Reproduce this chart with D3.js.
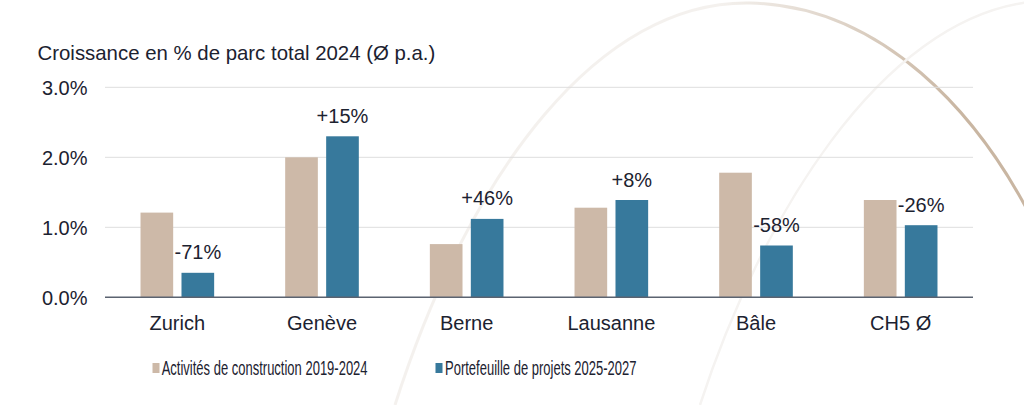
<!DOCTYPE html>
<html>
<head>
<meta charset="utf-8">
<script src="https://cdn.jsdelivr.net/npm/d3@7"></script>
<style>
  html, body { margin: 0; padding: 0; background: #ffffff; }
  svg { display: block; }
  text { font-family: "Liberation Sans", Arial, Helvetica, sans-serif; fill: #1c2230; }
</style>
</head>
<body>
<script>
const categories = ["Zurich", "Genève", "Berne", "Lausanne", "Bâle", "CH5 Ø"];
const seriesNames = ["Activités de construction 2019-2024", "Portefeuille de projets 2025-2027"];
const construction = [1.21, 2.00, 0.76, 1.28, 1.78, 1.39];
const portfolio = [0.35, 2.30, 1.12, 1.39, 0.74, 1.03];
const changeLabels = ["-71%", "+15%", "+46%", "+8%", "-58%", "-26%"];
const yTicks = [0, 1, 2, 3];
const yTickLabels = ["0.0%", "1.0%", "2.0%", "3.0%"];
const title = "Croissance en % de parc total 2024 (Ø p.a.)";
const colors = ["#cdb9a8", "#37799c"];

const W = 1024, H = 405;
const svg = d3.select("body").append("svg").attr("width", W).attr("height", H);

// decorative background arcs
const defs = svg.append("defs");
const g1 = defs.append("linearGradient").attr("id", "arcGrad").attr("gradientUnits", "userSpaceOnUse")
  .attr("x1", 720).attr("y1", 0).attr("x2", 960).attr("y2", 0);
g1.append("stop").attr("offset", 0).attr("stop-color", "#f4f1ee");
g1.append("stop").attr("offset", 1).attr("stop-color", "#c9b6a2");
const bg = svg.append("g");
const p1 = d3.path();
p1.moveTo(395, 405);
p1.bezierCurveTo(470, 170, 600, 0, 750, 3);
p1.bezierCurveTo(880, 6, 980, 110, 1040, 235);
bg.append("path").attr("d", p1.toString()).attr("fill", "none")
  .attr("stroke", "url(#arcGrad)").attr("stroke-width", 3);
const p2 = d3.path();
p2.moveTo(700, 405);
p2.bezierCurveTo(760, 220, 880, 20, 1030, 2);
bg.append("path").attr("d", p2.toString()).attr("fill", "none")
  .attr("stroke", "#f5f3f1").attr("stroke-width", 2.5);

const left = 105, right = 973, y0px = 297.3, y3px = 87.3;
const x0 = d3.scaleBand().domain(categories).range([left, right]).paddingInner(0.491).paddingOuter(0.2455);
const x1 = d3.scaleBand().domain([0, 1]).range([0, x0.bandwidth()]).paddingInner(0.203);
const y = d3.scaleLinear().domain([0, 3]).range([y0px, y3px]);

// grid
const grid = svg.append("g");
grid.selectAll("line").data(yTicks.filter(d => d > 0)).join("line")
  .attr("x1", left).attr("x2", right)
  .attr("y1", d => y(d)).attr("y2", d => y(d))
  .attr("stroke", "#dedede").attr("stroke-width", 1);

// y labels
svg.append("g").selectAll("text").data(yTicks).join("text")
  .attr("x", 87.5).attr("y", d => y(d)).attr("dy", "0.36em")
  .attr("text-anchor", "end").attr("font-size", 20)
  .text((d, i) => yTickLabels[i]);

// bars
const groups = svg.append("g").selectAll("g").data(categories).join("g")
  .attr("transform", d => `translate(${x0(d)},0)`);
groups.selectAll("rect").data((d, i) => [construction[i], portfolio[i]]).join("rect")
  .attr("x", (d, j) => x1(j)).attr("width", x1.bandwidth())
  .attr("y", d => y(d)).attr("height", d => y(0) - y(d))
  .attr("fill", (d, j) => colors[j]);

// change labels
groups.append("text")
  .attr("x", x1(1) + x1.bandwidth() / 2)
  .attr("y", (d, i) => y(portfolio[i]) - 13.5)
  .attr("text-anchor", "middle").attr("font-size", 20)
  .text((d, i) => changeLabels[i]);

// baseline
svg.append("line").attr("x1", left).attr("x2", right).attr("y1", y(0)).attr("y2", y(0))
  .attr("stroke", "#5b6370").attr("stroke-width", 1.5);

// category labels
svg.append("g").selectAll("text").data(categories).join("text")
  .attr("x", d => x0(d) + x0.bandwidth() / 2).attr("y", 329.5)
  .attr("text-anchor", "middle").attr("font-size", 20)
  .text(d => d);

// title
svg.append("text").attr("x", 37.5).attr("y", 60).attr("font-size", 20.4).text(title);

// legend (condensed text via horizontal scale)
const legendPos = [{sx: 152.5, tx: 161.7, tw: 206}, {sx: 435.5, tx: 445, tw: 191.7}];
const lg = svg.append("g").selectAll("g").data(seriesNames).join("g");
lg.append("rect").attr("x", (d, i) => legendPos[i].sx).attr("y", 363)
  .attr("width", 7).attr("height", 10).attr("fill", (d, i) => colors[i]);
lg.append("text")
  .attr("font-size", 19.5)
  .text(d => d)
  .each(function(d, i) {
    const w = this.getComputedTextLength();
    const k = legendPos[i].tw / w;
    d3.select(this).attr("transform", `translate(${legendPos[i].tx},374.5) scale(${k},1)`);
  });
</script>
</body>
</html>
